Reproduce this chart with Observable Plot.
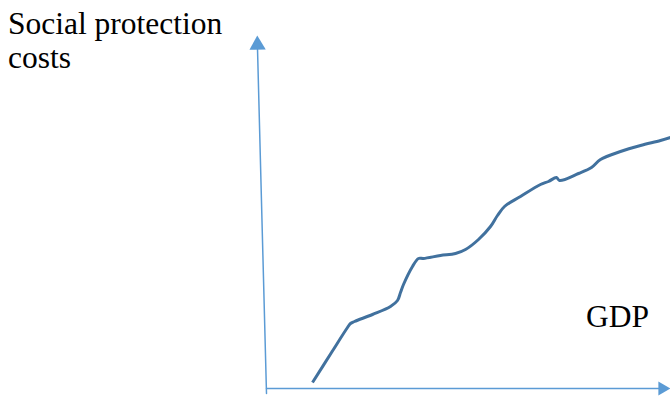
<!DOCTYPE html>
<html>
<head>
<meta charset="utf-8">
<script src="https://cdn.jsdelivr.net/npm/d3@7"></script>
<script src="https://cdn.jsdelivr.net/npm/@observablehq/plot@0.6"></script>
<style>
  html, body { margin: 0; padding: 0; background: #fff; }
  #wrap { position: relative; width: 670px; height: 399px; overflow: hidden; }
  .lbl { position: absolute; font-family: "Liberation Serif", "Times New Roman", serif; font-size: 31.5px; line-height: 34px; color: #000; white-space: nowrap; }
</style>
</head>
<body>
<div id="wrap">
  <div class="lbl" id="ylab" style="left:8px; top:7px;">Social protection<br>costs</div>
  <div class="lbl" id="xlab" style="left:586px; top:300px;">GDP</div>
</div>
<script>
// Curve: social protection costs vs GDP (conceptual units)
const gdp  = [46, 65, 81, 84, 88, 106, 124, 131, 134, 137, 146, 152, 157, 174, 189, 199, 212, 224, 231, 238, 254, 274, 282, 290, 293, 312, 325, 334, 354, 374, 394, 404];
const cost = [6, 36, 61, 65, 67, 74, 82, 88, 96, 104, 122, 130, 130, 133, 135, 139, 149, 162, 173, 182, 192, 204, 207, 211, 208, 215, 221, 229, 237, 243, 248, 251];

// Axis lines (data units)
const yAxisX = [0, -9];
const yAxisY = [-5, 340];
const xAxisX = [0, 394];
const xAxisY = [0, 0];
// Arrowheads (centres)
const yHead = [{x: -9, y: 343.6}];
const xHead = [{x: 395.9, y: 0}];

const curve = gdp.map((g, i) => ({g, c: cost[i]}));
const yAxis = yAxisX.map((x, i) => ({x, y: yAxisY[i]}));
const xAxis = xAxisX.map((x, i) => ({x, y: xAxisY[i]}));

const axisColor = "#5b9bd5";
const plot = Plot.plot({
  width: 670,
  height: 399,
  margin: 0,
  x: {domain: [-266, 404], axis: null},
  y: {domain: [-11, 388], axis: null},
  marks: [
    Plot.line(yAxis, {x: "x", y: "y", stroke: axisColor, strokeWidth: 1.5}),
    Plot.line(xAxis, {x: "x", y: "y", stroke: axisColor, strokeWidth: 1.5}),
    Plot.dot(yHead, {x: "x", y: "y", symbol: "triangle", r: 6.05, rotate: -1.45, fill: axisColor, stroke: "none"}),
    Plot.dot(xHead, {x: "x", y: "y", symbol: "triangle", r: 5.2, rotate: 90, fill: axisColor, stroke: "none"}),
    Plot.line(curve, {x: "g", y: "c", stroke: "#41719e", strokeWidth: 3, curve: "catmull-rom", strokeLinejoin: "round", strokeLinecap: "butt"})
  ]
});
plot.style.position = "absolute";
plot.style.left = "0";
plot.style.top = "0";
document.getElementById("wrap").prepend(plot);
</script>
</body>
</html>
